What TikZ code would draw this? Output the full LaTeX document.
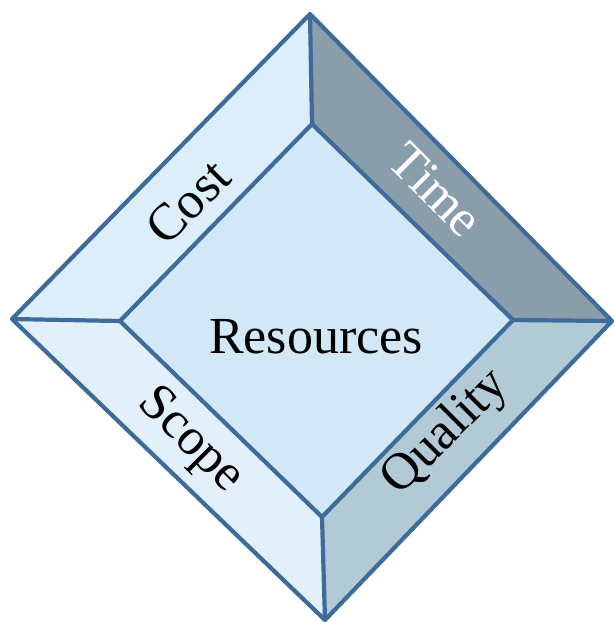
\documentclass[tikz,border=0pt]{standalone}
\usepackage{fontspec}
\setmainfont{Liberation Serif}
\definecolor{edge}{HTML}{3E6C9A}
\definecolor{ftl}{HTML}{DCEEFA}
\definecolor{ftr}{HTML}{8A9DAB}
\definecolor{fbr}{HTML}{B2C9D6}
\definecolor{fbl}{HTML}{E3F0FB}
\definecolor{fc}{HTML}{D3E8F7}
\begin{document}
\begin{tikzpicture}[x=1pt,y=-1pt,
  face/.style={draw=edge,line width=4.2pt,line join=round},
  lbl/.style={font=\fontsize{52}{60}\selectfont,inner sep=0pt}]
\useasboundingbox (0,0) rectangle (614,622);
\coordinate (OT) at (310,14);
\coordinate (OR) at (612,321);
\coordinate (OB) at (325,620);
\coordinate (OL) at (12,319);
\coordinate (IT) at (312,124);
\coordinate (IR) at (513,320);
\coordinate (IB) at (322,517);
\coordinate (IL) at (120,321);
\fill[ftl] (OL) -- (OT) -- (IT) -- (IL) -- cycle;
\fill[ftr] (OT) -- (OR) -- (IR) -- (IT) -- cycle;
\fill[fbr] (OR) -- (OB) -- (IB) -- (IR) -- cycle;
\fill[fbl] (OB) -- (OL) -- (IL) -- (IB) -- cycle;
\fill[fc] (IT) -- (IR) -- (IB) -- (IL) -- cycle;
\draw[face] (OT) -- (OR) -- (OB) -- (OL) -- cycle;
\draw[face] (IT) -- (IR) -- (IB) -- (IL) -- cycle;
\draw[face] (OT) -- (IT) (OR) -- (IR) (OB) -- (IB) (OL) -- (IL);
\node[lbl] (res) at (316,337) {Resources};
\node[lbl,rotate=45] (cost) at (188,202) {Cost};
\node[lbl,rotate=-45,text=white] (time) at (436,190) {Time};
\node[lbl,rotate=45] (qual) at (446,433) {Quality};
\node[lbl,rotate=-45] (scope) at (190,441) {Scope};
\end{tikzpicture}
\end{document}
